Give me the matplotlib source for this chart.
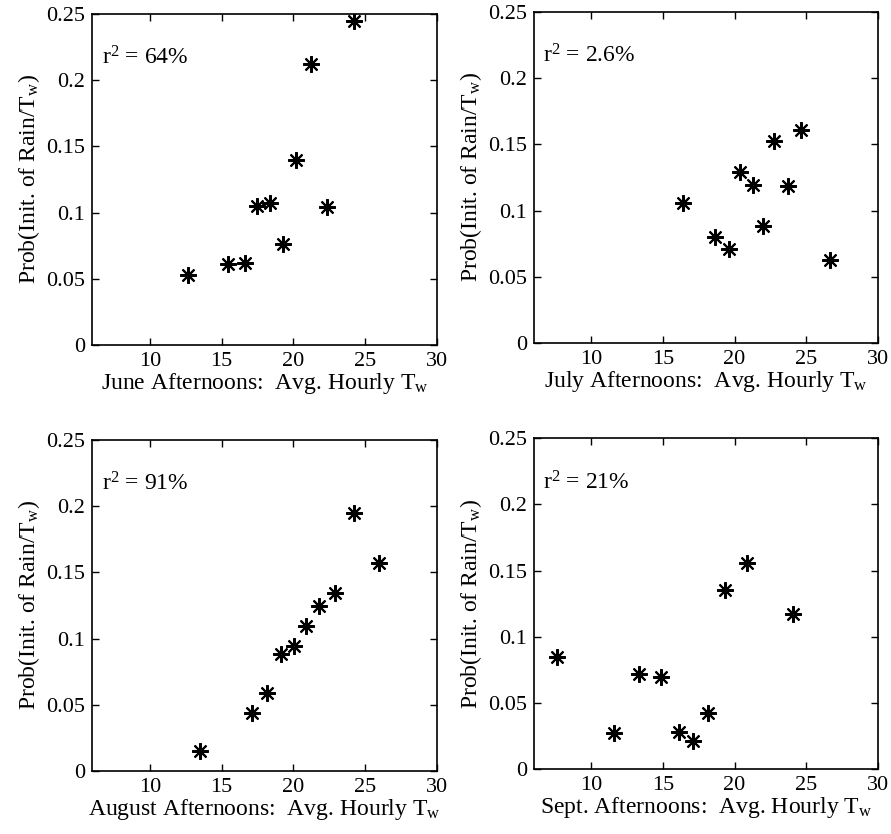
import matplotlib
matplotlib.use("Agg")
import matplotlib.pyplot as plt
from matplotlib.ticker import FuncFormatter

plt.rcParams['font.family'] = ['Liberation Serif', 'DejaVu Serif']
plt.rcParams['mathtext.fontset'] = 'custom'
plt.rcParams['mathtext.rm'] = 'Liberation Serif'
plt.rcParams['mathtext.it'] = 'Liberation Serif:italic'

# June
june_x = [12.64, 15.44, 16.65, 17.44, 18.38, 19.29, 20.20, 21.20, 22.32, 24.19]
june_y = [0.053, 0.061, 0.062, 0.105, 0.1075, 0.0765, 0.140, 0.212, 0.1045, 0.245]
# July
july_x = [16.37, 18.60, 19.60, 20.37, 21.30, 22.74, 22.00, 23.70, 24.65, 26.63]
july_y = [0.1056, 0.0798, 0.0707, 0.1293, 0.1192, 0.1528, 0.0884, 0.1184, 0.1609, 0.0629]
# August
aug_x = [13.53, 17.12, 18.19, 19.12, 20.02, 20.86, 21.79, 22.91, 24.19, 25.95]
aug_y = [0.0151, 0.044, 0.0588, 0.0884, 0.0942, 0.1098, 0.1246, 0.1347, 0.1947, 0.1573]
# September
sep_x = [7.63, 11.58, 13.35, 14.88, 16.09, 17.12, 18.14, 19.30, 20.88, 24.07]
sep_y = [0.0848, 0.0276, 0.072, 0.070, 0.0279, 0.0213, 0.0429, 0.1353, 0.1559, 0.1175]

months = ['June', 'July', 'August', 'Sept.']
r2_labels = ['64%', '2.6%', '91%', '21%']
xs = [june_x, july_x, aug_x, sep_x]
ys = [june_y, july_y, aug_y, sep_y]

x_ticks = [10, 15, 20, 25, 30]
y_ticks = [0, 0.05, 0.1, 0.15, 0.2, 0.25]

fig = plt.figure(figsize=(8.91, 8.34), dpi=100)

# axes rectangles [left, bottom, width, height]
rects = [
    [0.1036, 0.5863, 0.387, 0.397],
    [0.5993, 0.5887, 0.386, 0.397],
    [0.1036, 0.0755, 0.387, 0.397],
    [0.5993, 0.0775, 0.386, 0.397],
]

for i in range(4):
    ax = fig.add_axes(rects[i])
    ax.plot(xs[i], ys[i], linestyle='none', marker=(8, 2, 0),
            markersize=12, markeredgewidth=1.5, color='black')
    ax.set_xlim(6, 30)
    ax.set_ylim(0, 0.25)
    ax.set_xticks(x_ticks)
    ax.set_yticks(y_ticks)
    ax.yaxis.set_major_formatter(FuncFormatter(lambda v, p: '%g' % v))
    ax.tick_params(direction='in', top=True, right=True, length=5,
                   width=1, labelsize=16, pad=5)
    for s in ax.spines.values():
        s.set_linewidth(1.2)
    ax.set_xlabel(months[i] + ' Afternoons:  Avg. Hourly T$_\\mathrm{w}$',
                  fontsize=17, labelpad=0)
    ax.set_ylabel('Prob(Init. of Rain/T$_\\mathrm{w}$)', fontsize=17, labelpad=3)
    ax.text(0.027, 0.846, 'r$^2$ = ' + r2_labels[i], transform=ax.transAxes,
            fontsize=17, va='baseline', ha='left')

fig.savefig('out.png', dpi=100)
